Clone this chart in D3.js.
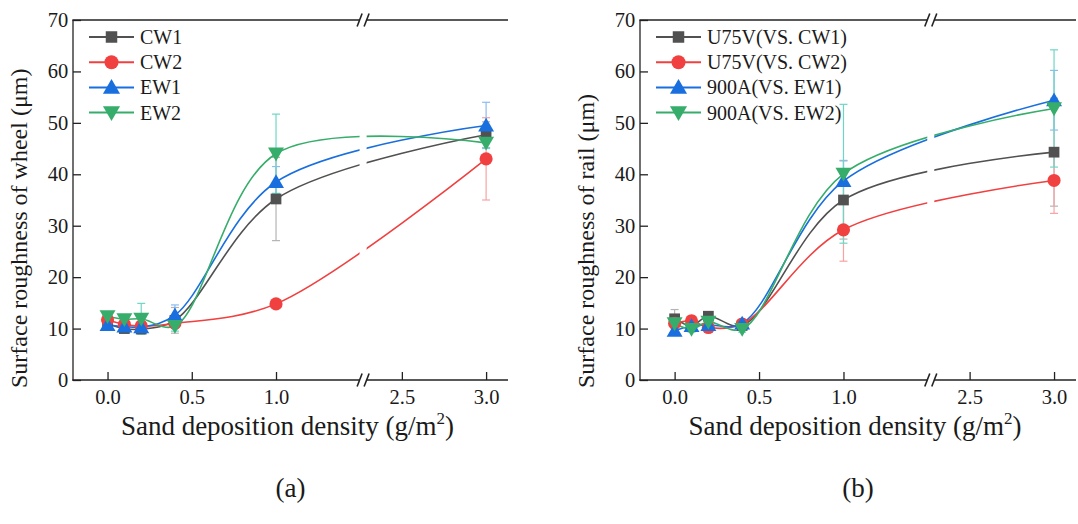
<!DOCTYPE html>
<html><head><meta charset="utf-8">
<script src="https://cdn.jsdelivr.net/npm/d3@7"></script>
<style>body{margin:0;background:#fff;} svg text{font-family:"Liberation Serif","Times New Roman",Times,serif;fill:#1a1a1a;}</style>
</head><body><svg id="c" width="1078" height="524"></svg>
<script>
const xValues = [0, 0.1, 0.2, 0.4, 1.0, 3.0];
const yTicks = [0, 10, 20, 30, 40, 50, 60, 70];
const xTicksLow = [0.0, 0.5, 1.0];
const xTicksHigh = [2.5, 3.0];

const namesA = ["CW1", "CW2", "EW1", "EW2"];
const cw1 = [11.0, 10.0, 9.9, 11.6, 35.2, 47.7];
const cw1Err = [1.0, 0.8, 0.8, 2.5, 8.1, 2.5];
const cw2 = [11.7, 10.8, 10.5, 11.0, 14.8, 43.0];
const cw2Err = [0.8, 0.6, 0.8, 1.0, 0.5, 8.0];
const ew1 = [10.7, 10.4, 10.3, 12.6, 38.5, 49.5];
const ew1Err = [0.5, 0.5, 0.5, 2.0, 3.0, 4.5];
const ew2 = [12.4, 11.8, 11.9, 10.5, 44.0, 46.1];
const ew2Err = [0.8, 0.8, 3.0, 1.0, 7.7, 1.0];

const namesB = ["U75V(VS. CW1)", "U75V(VS. CW2)", "900A(VS. EW1)", "900A(VS. EW2)"];
const u75cw1 = [11.9, 10.6, 12.4, 10.6, 35.0, 44.3];
const u75cw1Err = [1.8, 0.6, 0.8, 0.6, 7.6, 10.5];
const u75cw2 = [11.0, 11.5, 10.2, 10.9, 29.2, 38.8];
const u75cw2Err = [0.8, 1.0, 0.6, 0.6, 6.1, 6.4];
const a900ew1 = [9.6, 10.5, 10.7, 11.0, 38.7, 54.4];
const a900ew1Err = [0.5, 0.5, 0.5, 0.6, 4.0, 5.8];
const a900ew2 = [11.0, 9.9, 11.3, 9.9, 40.1, 52.8];
const a900ew2Err = [0.6, 0.6, 0.6, 0.6, 13.5, 11.4];

const colors = ["#515151", "#F14040", "#1A6FDF", "#37AD6B"];
const errColors = ["#b4b4b4", "#f7a3a3", "#8cbcf0", "#6fd6c6"];
const symbols = [d3.symbolSquare, d3.symbolCircle, d3.symbolTriangle, d3.symbolTriangle];
const symSizes = [115, 135, 110, 110];
const symRot = [0, 0, 0, 180];

const svg = d3.select("#c");
const defs = svg.append("defs");

function panel(id, L, R, top, bottom, names, series, errs, yLabel, letter) {
  const segLow = [-0.205, 1.517], segHigh = [2.27, 3.13];
  const k = (R - L) / ((segLow[1] - segLow[0]) + (segHigh[1] - segHigh[0]));
  const B = L + (segLow[1] - segLow[0]) * k;
  const x1 = d3.scaleLinear().domain(segLow).range([L, B]);
  const x2 = d3.scaleLinear().domain(segHigh).range([B, R]);
  const xs = v => v <= segLow[1] ? x1(v) : x2(v);
  const y = d3.scaleLinear().domain([0, 70]).range([bottom, top]);
  const g = svg.append("g");
  const gap = 3.5;

  defs.append("clipPath").attr("id", id + "c1").append("rect").attr("x", L).attr("y", 0).attr("width", B - gap - L).attr("height", 524);
  defs.append("clipPath").attr("id", id + "c2").append("rect").attr("x", B + gap).attr("y", 0).attr("width", R - B - gap).attr("height", 524);

  const yAxis = d3.axisLeft(y).tickValues(yTicks).tickSize(-8).tickPadding(15).tickFormat(d3.format("d"));
  const ya = g.append("g").attr("transform", `translate(${L},0)`).call(yAxis);
  const bx1 = g.append("g").attr("transform", `translate(0,${bottom})`).call(d3.axisBottom(x1).tickValues(xTicksLow).tickSize(-8).tickPadding(15).tickFormat(d3.format(".1f")));
  const bx2 = g.append("g").attr("transform", `translate(0,${bottom})`).call(d3.axisBottom(x2).tickValues(xTicksHigh).tickSize(-8).tickPadding(15).tickFormat(d3.format(".1f")));
  [ya, bx1, bx2].forEach(a => {
    a.select(".domain").remove();
    a.selectAll(".tick line").attr("stroke", "#222").attr("stroke-width", 1.3);
    a.selectAll(".tick text").attr("font-size", 20.5).attr("fill", "#1a1a1a").attr("font-family", null);
  });
  ya.selectAll(".tick text").attr("dx", "0.5em");
  bx1.selectAll(".tick text").attr("dy", "0.45em");
  bx2.selectAll(".tick text").attr("dy", "0.45em");
  function ln(x1_, y1_, x2_, y2_, w) {
    g.append("line").attr("x1", x1_).attr("y1", y1_).attr("x2", x2_).attr("y2", y2_).attr("stroke", "#222").attr("stroke-width", w || 1.3);
  }
  ln(L, top, L, bottom + 0.65);
  [top, bottom].forEach(yy => {
    ln(L - 0.65, yy, B - 3.5, yy);
    ln(B + 3.5, yy, R, yy);
    [-3.5, 3.5].forEach(o => ln(B + o - 2.5, yy + 6.5, B + o + 2.5, yy - 6.5, 1.6));
  });

  series.forEach((s, i) => {
    const eg = g.append("g").attr("stroke", errColors[i]).attr("stroke-width", 1.2);
    s.forEach((v, j) => {
      const cx = xs(xValues[j]);
      const e = errs[i][j];
      eg.append("line").attr("x1", cx).attr("x2", cx).attr("y1", y(v - e)).attr("y2", y(v + e));
      [v - e, v + e].forEach(t => eg.append("line").attr("x1", cx - 4).attr("x2", cx + 4).attr("y1", y(t)).attr("y2", y(t)));
    });
  });

  const line = d3.line().x(d => xs(d[0])).y(d => y(d[1])).curve(d3.curveCatmullRom.alpha(0.5));
  series.forEach((s, i) => {
    const pts = s.map((v, j) => [xValues[j], v]);
    ["c1", "c2"].forEach(c => {
      g.append("path").attr("d", line(pts)).attr("fill", "none").attr("stroke", colors[i]).attr("stroke-width", 1.6).attr("clip-path", `url(#${id}${c})`);
    });
  });
  series.forEach((s, i) => {
    s.forEach((v, j) => {
      g.append("path").attr("d", d3.symbol().type(symbols[i]).size(symSizes[i])())
        .attr("transform", `translate(${xs(xValues[j])},${y(v) + (i >= 2 ? (i === 2 ? 1.5 : -1.5) : 0)}) rotate(${symRot[i]})`)
        .attr("fill", colors[i]);
    });
  });

  const lx = L + 16, ly0 = top + 17, dy = 25.2;
  names.forEach((n, i) => {
    const yy = ly0 + i * dy;
    g.append("line").attr("x1", lx).attr("x2", lx + 45).attr("y1", yy).attr("y2", yy).attr("stroke", colors[i]).attr("stroke-width", 2);
    g.append("path").attr("d", d3.symbol().type(symbols[i]).size(symSizes[i] * 1.15)())
      .attr("transform", `translate(${lx + 22.5},${yy + (i >= 2 ? (i === 2 ? 1.5 : -1.5) : 0)}) rotate(${symRot[i]})`).attr("fill", colors[i]);
    g.append("text").attr("x", lx + 51).attr("y", yy + 7).attr("font-size", 20).text(n);
  });

  const xl = g.append("text").attr("x", (L + R) / 2 - 3).attr("y", 435).attr("text-anchor", "middle").attr("font-size", 27);
  xl.append("tspan").text("Sand deposition density (g/m");
  xl.append("tspan").attr("font-size", 17).attr("dy", -11).text("2");
  xl.append("tspan").attr("dy", 11).text(")");
  g.append("text").attr("transform", `translate(${L - 46},${bottom + 8}) rotate(-90)`).attr("text-anchor", "start").attr("font-size", 24).text(yLabel);
  g.append("text").attr("x", (L + R) / 2).attr("y", 497).attr("text-anchor", "middle").attr("font-size", 27).text(letter);
}

panel("a", 73, 508, 20, 380, namesA, [cw1, cw2, ew1, ew2], [cw1Err, cw2Err, ew1Err, ew2Err], "Surface roughness of wheel (μm)", "(a)");
panel("b", 640, 1076, 20, 380, namesB, [u75cw1, u75cw2, a900ew1, a900ew2], [u75cw1Err, u75cw2Err, a900ew1Err, a900ew2Err], "Surface roughness of rail (μm)", "(b)");
</script></body></html>
